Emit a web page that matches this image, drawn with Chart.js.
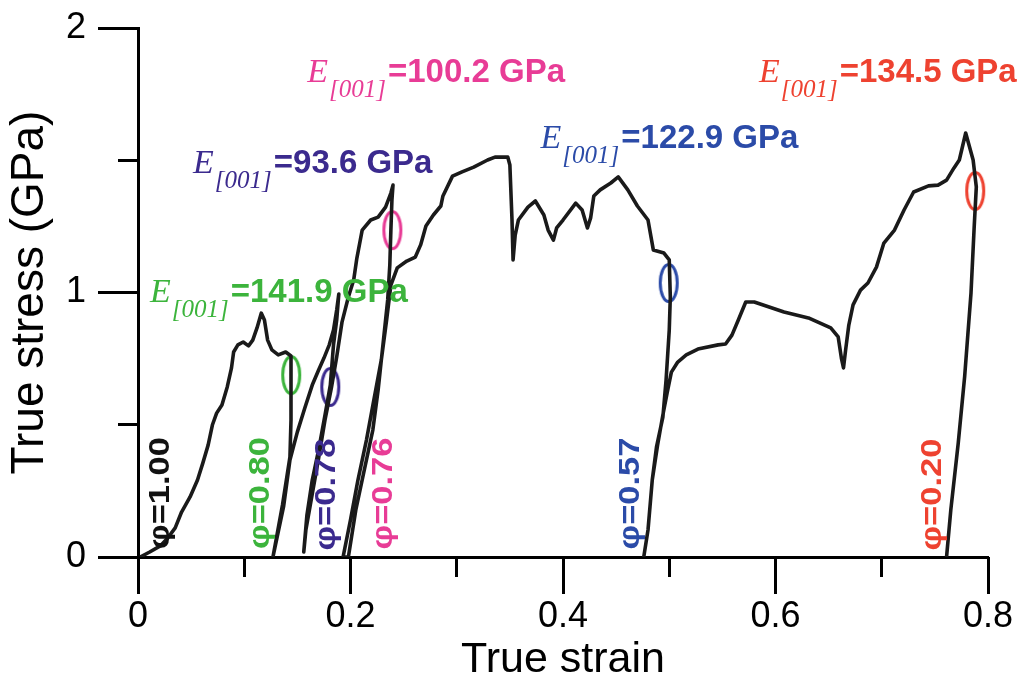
<!DOCTYPE html>
<html>
<head>
<meta charset="utf-8">
<script src="https://cdn.jsdelivr.net/npm/chart.js@4/dist/chart.umd.min.js"></script>
<style>
  body { margin: 0; background: #fff; }
  #chart { display: block; }
</style>
</head>
<body>
<canvas id="chart" width="1024" height="688"></canvas>
<script>
// whole loading / unloading record, in order
const strain = [
    0.002, 0.011, 0.021, 0.028, 0.035, 0.041, 0.049, 0.056, 0.061, 0.066, 0.070, 0.074, 0.079, 0.084, 0.088, 0.090,
    0.094, 0.099, 0.104, 0.108, 0.112, 0.116, 0.119, 0.122, 0.126, 0.132, 0.139, 0.144, 0.144, 0.143, 0.136, 0.127,
    0.137, 0.143, 0.150, 0.157, 0.164, 0.170, 0.175, 0.180, 0.184, 0.187, 0.189,
    0.187, 0.184, 0.181, 0.176, 0.170, 0.164, 0.159, 0.156,
    0.158, 0.163, 0.170, 0.176, 0.182, 0.187, 0.192, 0.198, 0.203, 0.206, 0.211, 0.219, 0.226, 0.233, 0.238, 0.240,
    0.239, 0.238, 0.237, 0.235, 0.231, 0.226, 0.221, 0.213, 0.205, 0.198,
    0.193, 0.200, 0.207, 0.215, 0.222, 0.229, 0.234, 0.238, 0.244, 0.253, 0.261, 0.266, 0.271, 0.278, 0.285, 0.287,
    0.296, 0.305, 0.316, 0.329, 0.336, 0.348, 0.350, 0.352, 0.353, 0.355, 0.358, 0.367, 0.374, 0.382, 0.386, 0.391,
    0.394, 0.400, 0.412, 0.418, 0.423, 0.426, 0.429, 0.435, 0.445, 0.452, 0.461, 0.470, 0.480, 0.485, 0.495, 0.500,
    0.501, 0.500, 0.497, 0.494, 0.488, 0.484, 0.480, 0.476,
    0.480, 0.484, 0.489, 0.494, 0.498, 0.502, 0.508, 0.516, 0.527, 0.546, 0.553, 0.559, 0.565, 0.572, 0.580, 0.594,
    0.608, 0.631, 0.652, 0.659, 0.662, 0.664, 0.666, 0.669, 0.673, 0.680, 0.687, 0.695, 0.702, 0.712, 0.721, 0.730,
    0.744, 0.753, 0.761, 0.768, 0.773, 0.779,
    0.786, 0.789, 0.787, 0.784, 0.778, 0.772, 0.765, 0.761
];
const stress = [
    0.000, 0.019, 0.042, 0.072, 0.110, 0.170, 0.227, 0.291, 0.355, 0.423, 0.499, 0.544, 0.575, 0.643, 0.715, 0.775,
    0.802, 0.813, 0.798, 0.820, 0.866, 0.922, 0.896, 0.820, 0.783, 0.764, 0.775, 0.760, 0.518, 0.378, 0.197, 0.000,
    0.190, 0.367, 0.473, 0.563, 0.650, 0.707, 0.752, 0.802, 0.858, 0.934, 0.994,
    0.896, 0.802, 0.650, 0.537, 0.405, 0.291, 0.159, 0.019,
    0.102, 0.216, 0.374, 0.518, 0.639, 0.756, 0.888, 0.983, 1.047, 1.130, 1.236, 1.274, 1.285, 1.323, 1.376, 1.406,
    1.350, 1.236, 1.104, 0.972, 0.820, 0.631, 0.480, 0.329, 0.178, 0.000,
    0.000, 0.140, 0.291, 0.442, 0.594, 0.745, 0.896, 1.028, 1.093, 1.119, 1.134, 1.180, 1.251, 1.293, 1.327, 1.365,
    1.440, 1.456, 1.474, 1.501, 1.512, 1.512, 1.482, 1.274, 1.123, 1.217, 1.274, 1.323, 1.346, 1.293, 1.236, 1.198,
    1.244, 1.274, 1.338, 1.312, 1.244, 1.282, 1.365, 1.388, 1.414, 1.437, 1.388, 1.327, 1.274, 1.161, 1.149, 1.123,
    0.983, 0.858, 0.669, 0.529, 0.416, 0.291, 0.102, 0.000,
    0.102, 0.291, 0.423, 0.537, 0.620, 0.699, 0.737, 0.764, 0.786, 0.802, 0.805, 0.839, 0.896, 0.964, 0.964, 0.945,
    0.926, 0.904, 0.866, 0.832, 0.752, 0.715, 0.783, 0.877, 0.953, 1.009, 1.036, 1.096, 1.187, 1.236, 1.312, 1.380,
    1.403, 1.406, 1.425, 1.471, 1.501, 1.603,
    1.501, 1.399, 1.248, 0.998, 0.681, 0.431, 0.178, 0.000
];

// modulus annotations
const modColors = ["#3cb43c", "#3b2a8e", "#e83c96", "#2b4ba8", "#ee4230"];
const modText = ["=141.9 GPa", "=93.6 GPa", "=100.2 GPa", "=122.9 GPa", "=134.5 GPa"];
const modX = [0.0113, 0.0518, 0.1593, 0.3789, 0.5844];
const modY = [0.964, 1.452, 1.796, 1.546, 1.796];

// ellipses marking the unloading slopes
const ringX = [0.1442, 0.181, 0.2394, 0.4995, 0.788];
const ringY = [0.688, 0.643, 1.236, 1.036, 1.384];

// phi labels at the foot of each segment
const phiText = ["\u03c6=1.00", "\u03c6=0.80", "\u03c6=0.78", "\u03c6=0.76", "\u03c6=0.57", "\u03c6=0.20"];
const phiColors = ["#111111", "#3cb43c", "#3b2a8e", "#e83c96", "#2b4ba8", "#ee4230"];
const phiX = [0.0217, 0.1159, 0.178, 0.231, 0.4637, 0.748];
const phiY = [0.242, 0.242, 0.236, 0.240, 0.240, 0.236];

const xMajor = 0.2, xMinor = 0.1, yMajor = 1, yMinor = 0.5;

function ringImage(color) {
    const c = document.createElement("canvas");
    c.width = 24;
    c.height = 44;
    const g = c.getContext("2d");
    g.strokeStyle = color;
    g.lineWidth = 3;
    g.beginPath();
    g.ellipse(12, 22, 8.5, 18.5, 0, 0, Math.PI * 2);
    g.stroke();
    return c;
}
const ringStyles = modColors.map(ringImage);

const labelsPlugin = {
    id: "labels",
    afterDatasetsDraw(chart) {
        const ctx = chart.ctx;
        const xs = chart.scales.x, ys = chart.scales.y;
        ctx.save();
        ctx.textBaseline = "alphabetic";
        ctx.textAlign = "left";
        for (let i = 0; i < modText.length; i++) {
            let px = xs.getPixelForValue(modX[i]);
            const py = ys.getPixelForValue(modY[i]);
            ctx.fillStyle = modColors[i];
            ctx.font = "italic 34px 'Liberation Serif'";
            ctx.fillText("E", px, py);
            px += ctx.measureText("E").width + 1;
            ctx.font = "italic 25px 'Liberation Serif'";
            ctx.fillText("[001]", px, py + 15);
            px += ctx.measureText("[001]").width + 2;
            ctx.font = "bold 33px 'Liberation Sans'";
            ctx.fillText(modText[i], px, py);
        }
        ctx.font = "bold 30px 'Liberation Sans'";
        ctx.textAlign = "center";
        ctx.textBaseline = "middle";
        for (let i = 0; i < phiText.length; i++) {
            ctx.save();
            ctx.translate(xs.getPixelForValue(phiX[i]), ys.getPixelForValue(phiY[i]));
            ctx.rotate(-Math.PI / 2);
            ctx.scale(1.15, 1);
            ctx.fillStyle = phiColors[i];
            ctx.fillText(phiText[i], 0, 0);
            ctx.restore();
        }
        ctx.restore();
    }
};

const tickFont = { family: "'Liberation Sans'", size: 36 };

// fixed axis boxes so the plot area sits where the figure has it
function fixBox(w, h) {
    return s => {
        if (w !== null) s.width = w;
        if (h !== null) s.height = h;
        s.paddingTop = 0;
        s.paddingBottom = 0;
        s.paddingLeft = 0;
        s.paddingRight = 0;
    };
}

const config = {
    type: "scatter",
    data: {
        datasets: [{
            label: "stress",
            data: strain.map((s, i) => ({ x: s, y: stress[i] })),
            showLine: true,
            borderColor: "#1a1a1a",
            borderWidth: 3.6,
            borderJoinStyle: "round",
            pointRadius: 0,
            tension: 0
        }, {
            label: "rings",
            data: ringX.map((s, i) => ({ x: s, y: ringY[i] })),
            showLine: false,
            pointStyle: ringStyles,
            pointRadius: 10
        }]
    },
    options: {
        responsive: false,
        animation: false,
        layout: { padding: { left: 0, right: 36, top: 28, bottom: 0 } },
        plugins: {
            legend: { display: false },
            tooltip: { enabled: false }
        },
        scales: {
            x: {
                type: "linear", position: "bottom", min: 0, max: 0.8, weight: 1,
                ticks: {
                    stepSize: xMajor, color: "#000", font: tickFont, padding: 1,
                    callback: v => Math.abs(v) < 1e-9 ? "0" : String(Math.round(v * 10) / 10)
                },
                grid: { drawOnChartArea: false, tickLength: 37, tickWidth: 3, tickColor: "#000" },
                border: { color: "#000", width: 3 },
                title: { display: true, text: "True strain", color: "#000",
                    font: { family: "'Liberation Sans'", size: 43, lineHeight: 1 }, padding: { top: 0, bottom: 6 } },
                afterFit: fixBox(null, 131)
            },
            xMinor: {
                type: "linear", position: "bottom", min: 0, max: 0.8, weight: 0,
                ticks: { stepSize: xMinor, display: false },
                grid: { drawOnChartArea: false, tickLength: 20, tickWidth: 3, tickColor: "#000" },
                border: { display: false },
                afterFit: fixBox(null, 0)
            },
            y: {
                type: "linear", position: "left", min: 0, max: 2, weight: 1,
                ticks: { stepSize: yMajor, color: "#000", font: tickFont, padding: 12 },
                grid: { drawOnChartArea: false, tickLength: 40, tickWidth: 3, tickColor: "#000" },
                border: { color: "#000", width: 3 },
                title: { display: true, text: "True stress (GPa)", color: "#000",
                    font: { family: "'Liberation Sans'", size: 46, lineHeight: 1 }, padding: { top: 7, bottom: 0 } },
                afterFit: fixBox(138, null)
            },
            yMinor: {
                type: "linear", position: "left", min: 0, max: 2, weight: 0,
                ticks: { stepSize: yMinor, display: false },
                grid: { drawOnChartArea: false, tickLength: 20, tickWidth: 3, tickColor: "#000" },
                border: { display: false },
                afterFit: fixBox(0, null)
            }
        }
    },
    plugins: [labelsPlugin]
};

const chartLine = new Chart(document.getElementById("chart"), config);
</script>
</body>
</html>
